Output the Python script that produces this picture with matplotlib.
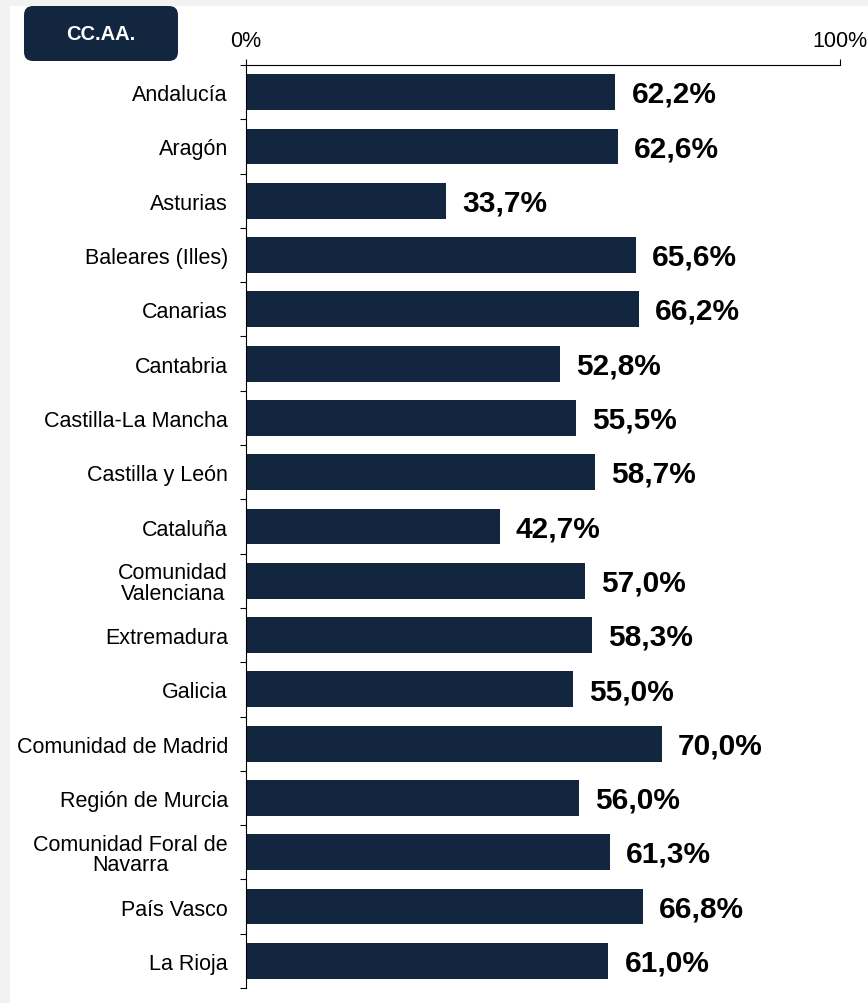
import numpy as np
import matplotlib
matplotlib.use("Agg")
import matplotlib.pyplot as plt
from matplotlib.patches import Rectangle, FancyBboxPatch

plt.rcParams['font.family'] = ['Liberation Sans', 'DejaVu Sans']

regions = ["Andalucía", "Aragón", "Asturias", "Baleares (Illes)", "Canarias",
           "Cantabria", "Castilla-La Mancha", "Castilla y León", "Cataluña",
           "Comunidad\nValenciana", "Extremadura", "Galicia",
           "Comunidad de Madrid", "Región de Murcia",
           "Comunidad Foral de\nNavarra", "País Vasco", "La Rioja"]
values = [62.2, 62.6, 33.7, 65.6, 66.2, 52.8, 55.5, 58.7, 42.7,
          57.0, 58.3, 55.0, 70.0, 56.0, 61.3, 66.8, 61.0]
xticks = [0, 100]
xticklabels = ["0%", "100%"]

navy = "#13263f"
W, H = 868, 1004

fig = plt.figure(figsize=(W / 100, H / 100), dpi=100, facecolor="#f2f2f2")
# white panel (gray frame only on left and top)
fig.patches.append(Rectangle((10 / W, 0), 1 - 10 / W, 1 - 7 / H,
                             transform=fig.transFigure, facecolor="white",
                             edgecolor="none", zorder=-10))

ax = fig.add_axes([246 / W, 1 - 989 / H, (840 - 246) / W, (989 - 66) / H])
ax.set_facecolor("none")
ax.set_zorder(1)

y = np.arange(len(regions))
ax.barh(y, values, height=0.66, color=navy)

for yi, v in zip(y, values):
    ax.text(v + 2.7, yi + 0.03, f"{v:.1f}%".replace(".", ","), va="center",
            ha="left", fontsize=21.5, fontweight="bold", color="black")

ax.set_xlim(0, 100)
ax.set_ylim(len(regions) - 0.5, -0.5)

ax.xaxis.tick_top()
ax.set_xticks(xticks)
ax.set_xticklabels(xticklabels, fontsize=15.5)
ax.tick_params(axis="x", direction="out", length=4.3, width=0.8, pad=5.5)

ax.set_yticks(y)
ax.set_yticklabels(regions, fontsize=15.5, linespacing=0.98)
for lab in ax.get_yticklabels():
    lab.set_multialignment("center")
ax.tick_params(axis="y", which="major", length=0, pad=13)
ax.set_yticks(np.arange(len(regions) + 1) - 0.5, minor=True)
ax.tick_params(axis="y", which="minor", direction="out", length=4.3, width=0.8)

for s in ["right", "bottom"]:
    ax.spines[s].set_visible(False)
for s in ["left", "top"]:
    ax.spines[s].set_linewidth(0.8)

# CC.AA. header box
box = FancyBboxPatch((0.24, (H - 62) / 100), 1.54, 0.55,
                     boxstyle="round,pad=0,rounding_size=0.09",
                     transform=fig.dpi_scale_trans, facecolor=navy,
                     edgecolor="none", zorder=2)
fig.patches.append(box)
fig.text(101 / W, 1 - 35 / H, "CC.AA.", ha="center", va="center",
         color="white", fontsize=14.5, fontweight="bold", zorder=3)

fig.savefig("out.png", dpi=100, facecolor=fig.get_facecolor())
